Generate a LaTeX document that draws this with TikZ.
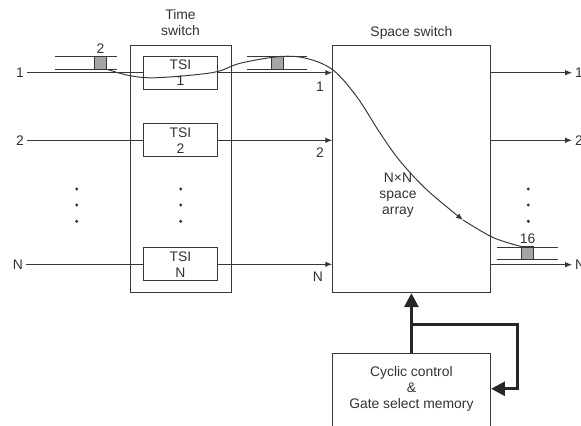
\documentclass[tikz,border=0pt]{standalone}
\usepackage{fontspec}
\setmainfont{Liberation Sans}
\usetikzlibrary{arrows.meta,positioning,calc}
\definecolor{swLine}{RGB}{55,55,55}
\definecolor{swText}{RGB}{50,50,50}
\definecolor{swCell}{RGB}{165,165,165}

\begin{document}
\begin{tikzpicture}[x=0.72pt,y=-0.72pt,
    font=\fontsize{10}{11.6}\selectfont,text=swText,
    swbox/.style={draw=swLine,line width=0.7pt,inner sep=0pt,align=center},
    tsibox/.style={swbox,minimum width=53.6pt,minimum height=24pt},
    cell/.style={draw=swLine,line width=0.5pt,fill=swCell,minimum width=9pt,minimum height=9pt,inner sep=0pt},
    lbl/.style={inner sep=2pt},
    line/.style={draw=swLine,line width=0.7pt},
    arrow/.style={line,-{Latex[length=5pt,width=4pt]}},
    ctrlarrow/.style={draw=black!85,line width=2.2pt,-{Triangle[length=10pt,width=10pt]}},
    node distance=4pt
  ]
    \useasboundingbox (0,0) rectangle (581,425);
    % time switch stage
    \node[swbox,minimum width=72.7pt,minimum height=178.1pt] (ts) at (180.5,169) {};
    \node[align=center,above=3pt of ts] (tslbl) {Time\\switch};
    \node[tsibox] (tsi1) at (180.5,72.7) {TSI\\1};
    \node[tsibox] (tsi2) at (180.5,140.3) {TSI\\2};
    \node[tsibox] (tsiN) at (180.5,264.3) {TSI\\N};
    % space switch stage
    \node[swbox,minimum width=113.3pt,minimum height=177.8pt] (ss) at (411.4,169.2) {};
    \node[above=1pt of ss] (sslbl) {Space switch};
    \node[align=center] (arr) at (398,195) {N×N\\space\\array};
    \node[swbox,minimum width=114pt,minimum height=60pt,anchor=north,below=43.2pt of ss] (cc) {};
    \node[align=center] (cclbl) at ($(cc.north)+(0,35.6)$) {Cyclic control\\\&\\Gate select memory};
    % inputs and outputs
    \node[lbl] (in1) at (20,72.7) {1};
    \node[lbl] (in2) at (20,140.3) {2};
    \node[lbl] (inN) at (18,264.3) {N};
    \node[lbl,anchor=west] (out1) at (572,72.7) {1};
    \node[lbl,anchor=west] (out2) at (572,140.3) {2};
    \node[lbl,anchor=west] (outN) at (572,264.7) {N};
    \node[lbl] (l1) at (320,87) {1};
    \node[lbl] (l2) at (320,153) {2};
    \node[lbl] (lN) at (318,277) {N};
    \draw[line] (in1) -- (tsi1);
    \draw[line] (in2) -- (tsi2);
    \draw[line] (inN) -- (tsiN);
    \draw[arrow] (tsi1) -- (tsi1 -| ss.west);
    \draw[arrow] (tsi2) -- (tsi2 -| ss.west);
    \draw[arrow] (tsiN) -- (tsiN -| ss.west);
    \draw[arrow] (ss.east |- out1) -- (out1);
    \draw[arrow] (ss.east |- out2) -- (out2);
    \draw[arrow] (ss.east |- outN) -- (outN);
    \foreach \x in {76.7,180.7,528.3}
      \foreach \y in {189,205,221.3}
        \fill[swText] (\x,\y) circle[radius=1.2pt];
    % time slots
    \node[cell] (slotin) at (100.5,62.7) {};
    \node[lbl,above=0pt of slotin] (slotinlbl) {2};
    \draw[line] (55,56.3) -- (116.7,56.3) (55,69) -- (116.7,69);
    \node[cell,minimum width=8.4pt] (slotmid) at (277.5,62.8) {};
    \draw[line] (246.7,56.5) -- (306.7,56.5) (246.7,69) -- (306.7,69);
    \node[cell] (slotout) at (527.5,253) {};
    \node[lbl,above=0pt of slotout] (slotoutlbl) {16};
    \draw[line] (497,247) -- (558,247) (497,259) -- (558,259);
    \draw[arrow] plot[smooth,tension=0.55] coordinates {(slotin.south east) (130,75.7) (157,77.7) (213,72.5) (240,63.3) (280,56.5) (307,58.5) (333,70) (357,97) (380,133) (400,161) (427,190) (463,220)};
    \draw[line] plot[smooth,tension=0.55] coordinates {(463,220) (493,237.5) (slotout.north west)};
    % control
    \draw[ctrlarrow] (cc.north) -- (ss.south);
    \coordinate (fork) at ($(cc.north)!0.473!(ss.south)$);
    \draw[ctrlarrow] (fork) -- ++(105.8,0) |- ($(cc.north east)+(0,35.6)$);
  \end{tikzpicture}
\end{document}
